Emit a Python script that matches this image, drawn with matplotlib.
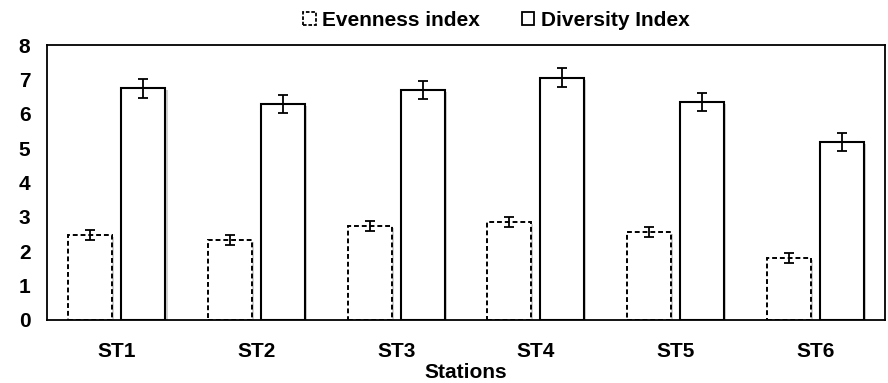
import numpy as np
import matplotlib.pyplot as plt
import matplotlib.patheffects as pe
from matplotlib.patches import Patch

plt.rcParams['font.family'] = ['Liberation Sans', 'DejaVu Sans']
plt.rcParams['font.weight'] = 'bold'

stations = ["ST1", "ST2", "ST3", "ST4", "ST5", "ST6"]
evenness = [2.48, 2.33, 2.73, 2.85, 2.56, 1.80]
evenness_err = [0.15, 0.15, 0.15, 0.15, 0.15, 0.15]
diversity = [6.74, 6.28, 6.69, 7.05, 6.34, 5.18]
diversity_err = [0.27, 0.27, 0.27, 0.27, 0.27, 0.27]

fig = plt.figure(figsize=(8.88, 3.83), dpi=100)
ax = fig.add_axes([0.053, 0.1645, 0.9436, 0.718])

x = np.arange(len(stations))
w = 0.315
off = 0.19
shadow = [pe.SimplePatchShadow(offset=(1.5, -1.5), shadow_rgbFace='0.6', alpha=0.45), pe.Normal()]

b1 = ax.bar(x - off, evenness, w, facecolor='white', edgecolor='black',
            linewidth=1.4, linestyle=(0, (2.5, 1.5)), zorder=2)
b2 = ax.bar(x + off, diversity, w, facecolor='white', edgecolor='black',
            linewidth=1.5, zorder=2)
for b in list(b1) + list(b2):
    b.set_path_effects(shadow)

ax.errorbar(x - off, evenness, yerr=evenness_err, fmt='none', ecolor='black',
            elinewidth=1.3, capsize=3.5, capthick=1.3, zorder=3)
ax.errorbar(x + off, diversity, yerr=diversity_err, fmt='none', ecolor='black',
            elinewidth=1.3, capsize=3.5, capthick=1.3, zorder=3)

ax.set_xlim(-0.5, len(stations) - 0.5)
ax.set_ylim(0, 8)
ax.set_yticks(range(0, 9))
ax.set_xticks(x)
ax.set_xticklabels(stations)
ax.tick_params(axis='both', length=0, labelsize=15)
ax.tick_params(axis='x', pad=16)
ax.tick_params(axis='y', pad=12)
for s in ax.spines.values():
    s.set_linewidth(1.3)
ax.set_xlabel("Stations", fontsize=15, fontweight='bold', labelpad=1)

handles = [Patch(facecolor='white', edgecolor='black', linestyle=(0, (2, 1)), linewidth=1.3),
           Patch(facecolor='white', edgecolor='black', linewidth=1.3)]
fig.legend(handles, ["Evenness index", "Diversity Index"], loc='upper center',
           bbox_to_anchor=(0.559, 1.02), ncol=2, frameon=False, fontsize=15,
           handlelength=0.6, handleheight=0.6, handletextpad=0.3, columnspacing=2.0)

fig.savefig("out.png", dpi=100)
